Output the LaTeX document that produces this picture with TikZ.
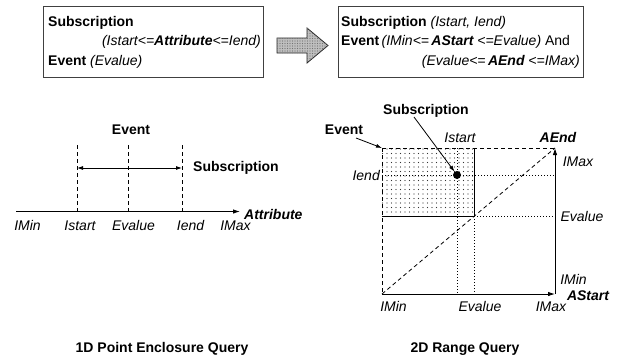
\documentclass[tikz,border=0pt]{standalone}
\usepackage{fontspec}
\setmainfont{Liberation Sans}
\usetikzlibrary{arrows.meta,patterns.meta}
\begin{document}
\begin{tikzpicture}[x=1pt,y=-1pt,
  txt/.style={inner sep=0pt, font=\fontsize{14}{17}\selectfont},
  bl/.style={inner sep=0pt, font=\fontsize{14}{17}\selectfont\bfseries},
  it/.style={inner sep=0pt, font=\fontsize{14}{17}\selectfont\itshape},
  bi/.style={inner sep=0pt, font=\fontsize{14}{17}\selectfont\bfseries\itshape},
  frame/.style={draw=black!75, line width=1pt, inner sep=0pt},
  axis/.style={line width=0.9pt, -{Latex[length=7pt,width=4.5pt]}},
  pointer/.style={line width=0.8pt, -{Latex[length=6pt,width=4pt]}},
  dsh/.style={dash pattern=on 4pt off 3pt, line width=0.8pt},
  dts/.style={dash pattern=on 1pt off 2pt, line width=0.8pt}]
\useasboundingbox (0,0) rectangle (639,356);

% ---------- top boxes ----------
\node[frame, minimum width=220pt, minimum height=71pt, anchor=north west] (lbox) at (43,6) {};
\node[bl, anchor=base west] (lsub) at (48,26) {Subscription};
\node[it, anchor=base east] (lcond) at (261,45) {(Istart<=\textbf{Attribute}<=Iend)};
\node[txt, anchor=base west] (lev) at (48,65) {\textbf{Event} \textit{(Evalue)}};

\node[frame, minimum width=245pt, minimum height=71pt, anchor=north west] (rbox) at (338,6) {};
\node[txt, anchor=base west] (rsub) at (341,26) {\textbf{Subscription} \textit{(Istart, Iend)}};
\node[txt, anchor=base west] (rev) at (341,45) {\textbf{Event}\,\textit{(IMin<=\,\textbf{AStart} <=Evalue)} And};
\node[it, anchor=base east] (rev2) at (580,65) {(Evalue<=\,\textbf{AEnd} <=IMax)};

% big arrow
\draw[fill=gray!50, draw=black!85, line width=0.8pt,
      postaction={pattern={Dots[distance=2.5pt,radius=0.6pt]}, pattern color=black!55}]
  (277,38) -- (307,38) -- (307,28) -- (328,45.5) -- (307,63) -- (307,53) -- (277,53) -- cycle;

% ---------- 1D diagram ----------
\coordinate (a0) at (16,211.5);
\coordinate (a1) at (240,211.5);
\draw[axis] (a0) -- (a1);
\coordinate (s0) at (77,145);  \coordinate (s1) at (77,211.5);
\coordinate (e0) at (128,145); \coordinate (e1) at (128,211.5);
\coordinate (t0) at (182,145); \coordinate (t1) at (182,211.5);
\draw[dsh] (s0) -- (s1);
\draw[dsh] (e0) -- (e1);
\draw[dsh] (t0) -- (t1);
\coordinate (d0) at (77,168); \coordinate (d1) at (182,168);
\draw[line width=0.8pt, {Latex[length=6pt,width=4pt]}-{Latex[length=6pt,width=4pt]}] (d0) -- (d1);

\node[bl, anchor=base] (ev1) at (131,134) {Event};
\node[bl, anchor=base] (sub1) at (236,171) {Subscription};
\node[bi, anchor=base west] (attr) at (244,219.5) {Attribute};
\node[it, anchor=base] (imin1) at (27.5,230) {IMin};
\node[it, anchor=base] (ist1) at (80,230) {Istart};
\node[it, anchor=base] (eva1) at (133.5,230) {Evalue};
\node[it, anchor=base] (ien1) at (190.5,230) {Iend};
\node[it, anchor=base] (imax1) at (235.5,230) {IMax};
\node[bl, anchor=base] (cap1) at (162,352) {1D Point Enclosure Query};

% ---------- 2D diagram ----------
\coordinate (O) at (382,294);
\coordinate (X) at (555,294);
\coordinate (T) at (555,148);
\coordinate (C) at (382,148);
\coordinate (B1) at (474,148);
\coordinate (B2) at (474,216);
\coordinate (B3) at (382,216);
\coordinate (I1) at (457,148);
\coordinate (I2) at (457,294);
\coordinate (E1) at (474,294);
\coordinate (L1) at (382,175);
\coordinate (L2) at (555,175);
\coordinate (V2) at (555,216);

\path[pattern={Dots[distance=4.5pt,radius=0.6pt]}, pattern color=black!80] (C) rectangle (B2);
\draw[dts] (I1) -- (I2);
\draw[dts] (B2) -- (E1);
\draw[dts] (L1) -- (L2);
\draw[dts] (B2) -- (V2);
\draw[line width=0.9pt] (B1) -- (B2) -- (B3);
\draw[dsh] (C) -- (O);
\draw[dsh] (C) -- (T);
\draw[dsh] (O) -- (T);
\draw[axis] (O) -- (X);
\draw[axis] (X) -- (T);

\node[circle, fill=black, minimum size=8pt, inner sep=0pt] (dot) at (457,175) {};

\node[bl, anchor=base] (sub2) at (426,114) {Subscription};
\node[bl, anchor=base] (ev2) at (344,134) {Event};
\coordinate (sa) at (414,117);
\coordinate (ea) at (356,138);
\draw[pointer] (sa) -- (dot);
\draw[pointer] (ea) -- (C);

\node[it, anchor=base] (ist2) at (460,142) {Istart};
\node[bi, anchor=base] (aend) at (558,142) {AEnd};
\node[it, anchor=base] (imax2) at (578,166) {IMax};
\node[it, anchor=base east] (ien2) at (380,180) {Iend};
\node[it, anchor=base] (eva2) at (582,221) {Evalue};
\node[it, anchor=base] (imin2) at (573.5,284) {IMin};
\node[bi, anchor=base] (ast) at (588,300) {AStart};
\node[it, anchor=base] (imin3) at (393.5,311) {IMin};
\node[it, anchor=base] (eva3) at (480,311) {Evalue};
\node[it, anchor=base] (imax3) at (551,311) {IMax};
\node[bl, anchor=base] (cap2) at (465,352) {2D Range Query};
\end{tikzpicture}
\end{document}
